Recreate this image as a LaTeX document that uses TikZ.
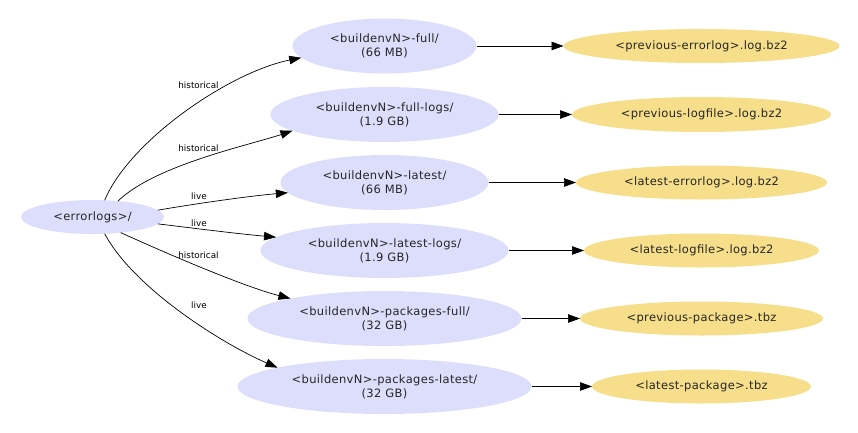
\documentclass[tikz,border=0pt]{standalone}
\usepackage{fontspec}
\setmainfont{DejaVu Sans}
\newfontfamily\dvwide[LetterSpace=3]{DejaVu Sans}
\usetikzlibrary{shapes.geometric,arrows.meta}
\definecolor{dirblue}{HTML}{DDDEFC}
\definecolor{fileyellow}{HTML}{F6DE8A}
\tikzset{
  base/.style={ellipse, inner sep=0pt, outer sep=0pt, align=center,
    font=\dvwide\fontsize{11.5}{14}\selectfont, text=black!85},
  dirnode/.style={base, fill=dirblue},
  filenode/.style={base, fill=fileyellow},
  elabel/.style={font=\fontsize{8.8}{10}\selectfont, inner sep=0pt, text=black},
  conn/.style={line width=0.7pt, -{Triangle[length=12pt,width=8.5pt]}},
}
\begin{document}
\begin{tikzpicture}[x=1pt,y=-1pt]
\useasboundingbox (0,0) rectangle (858,433);
\node[dirnode, minimum width=143, minimum height=34] (root) at (92.5,217) {<errorlogs>/};
\node[dirnode, minimum width=184, minimum height=55] (full) at (384.5,46) {<buildenvN>-full/\\(66 MB)};
\node[dirnode, minimum width=228, minimum height=55] (fulllogs) at (384.5,114.5) {<buildenvN>-full-logs/\\(1.9 GB)};
\node[dirnode, minimum width=208, minimum height=55] (latest) at (384.5,182.5) {<buildenvN>-latest/\\(66 MB)};
\node[dirnode, minimum width=248, minimum height=55] (latestlogs) at (384.5,250.5) {<buildenvN>-latest-logs/\\(1.9 GB)};
\node[dirnode, minimum width=274, minimum height=55] (pkgfull) at (384.5,318.5) {<buildenvN>-packages-full/\\(32 GB)};
\node[dirnode, minimum width=294, minimum height=55] (pkglatest) at (384.5,386.5) {<buildenvN>-packages-latest/\\(32 GB)};

\node[filenode, minimum width=276, minimum height=34] (preverr) at (701.5,46) {<previous-errorlog>.log.bz2};
\node[filenode, minimum width=259, minimum height=35] (prevlog) at (701.5,114.5) {<previous-logfile>.log.bz2};
\node[filenode, minimum width=251, minimum height=34] (latesterr) at (701.5,182.5) {<latest-errorlog>.log.bz2};
\node[filenode, minimum width=235, minimum height=34] (latestlog) at (701.5,250.5) {<latest-logfile>.log.bz2};
\node[filenode, minimum width=243, minimum height=34] (prevpkg) at (701.5,318.5) {<previous-package>.tbz};
\node[filenode, minimum width=219, minimum height=34] (latestpkg) at (701.5,386.5) {<latest-package>.tbz};

\draw[conn] (root.54) .. controls (130,140) and (230,72) .. (full.188);
\draw[conn] (root.32) .. controls (155,165) and (250,145) .. (fulllogs.190);
\draw[conn] (root.6) .. controls (200,203) and (250,196) .. (latest.186);
\draw[conn] (root.-6) .. controls (200,229) and (240,234) .. (latestlogs.173.5);
\draw[conn] (root.-29) .. controls (170,255) and (245,287) .. (pkgfull.168);
\draw[conn] (root.-54) .. controls (135,290) and (225,345) .. (pkglatest.170.4);

\node[elabel] (l1) at (198.5,85.5) {historical};
\node[elabel] (l2) at (198.5,148) {historical};
\node[elabel] (l3) at (199,196) {live};
\node[elabel] (l4) at (199,223.5) {live};
\node[elabel] (l5) at (198.5,255) {historical};
\node[elabel] (l6) at (199,305) {live};

\draw[conn] (full) -- (preverr);
\draw[conn] (fulllogs) -- (prevlog);
\draw[conn] (latest) -- (latesterr);
\draw[conn] (latestlogs) -- (latestlog);
\draw[conn] (pkgfull) -- (prevpkg);
\draw[conn] (pkglatest) -- (latestpkg);
\end{tikzpicture}
\end{document}
